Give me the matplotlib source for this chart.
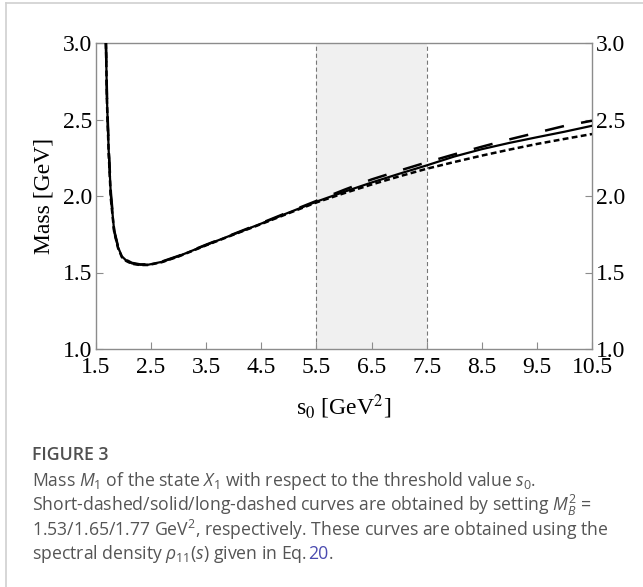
import matplotlib
matplotlib.use("Agg")
import matplotlib.pyplot as plt
from matplotlib.lines import Line2D

# ---------------- data ----------------
s0 = [1.68, 1.70, 1.73, 1.77, 1.83, 1.90, 1.97, 2.05, 2.15, 2.30, 2.45, 2.70,
      3.00, 3.50, 4.00, 4.50, 5.00, 5.50, 6.00, 6.50, 7.00, 7.50, 8.00, 8.50,
      9.00, 9.50, 10.00, 10.50]
mass_solid = [3.00, 2.62, 2.30, 2.00, 1.77, 1.665, 1.605, 1.578, 1.560, 1.551, 1.551, 1.570,
              1.607, 1.680, 1.750, 1.820, 1.892, 1.963, 2.027, 2.088, 2.145, 2.200, 2.258, 2.306,
              2.347, 2.384, 2.420, 2.459]
mass_short = [3.00, 2.60, 2.28, 1.98, 1.765, 1.660, 1.600, 1.575, 1.557, 1.549, 1.549, 1.568,
              1.605, 1.678, 1.748, 1.817, 1.888, 1.958, 2.018, 2.075, 2.128, 2.178, 2.222, 2.264,
              2.303, 2.340, 2.373, 2.405]
mass_long = [3.00, 2.64, 2.32, 2.02, 1.775, 1.670, 1.610, 1.582, 1.563, 1.553, 1.553, 1.572,
             1.609, 1.682, 1.752, 1.823, 1.896, 1.968, 2.040, 2.108, 2.165, 2.220, 2.272, 2.322,
             2.370, 2.414, 2.458, 2.492]
band = [5.5, 7.5]
xticks = [1.5, 2.5, 3.5, 4.5, 5.5, 6.5, 7.5, 8.5, 9.5, 10.5]
yticks = [1.0, 1.5, 2.0, 2.5, 3.0]

# ---------------- style ----------------
plt.rcParams['lines.scale_dashes'] = False
plt.rcParams['mathtext.fontset'] = 'custom'
plt.rcParams['mathtext.rm'] = 'Open Sans'
plt.rcParams['mathtext.it'] = 'Open Sans:italic'
plt.rcParams['mathtext.bf'] = 'Open Sans:bold'

W, H = 643, 587
fig = plt.figure(figsize=(W / 100, H / 100), dpi=100)

# frame lines of the page (left and top)
fig.add_artist(Line2D([5.5 / W, 5.5 / W], [0, 1 - 3 / H], color='#d0d0d0', lw=1.2,
                      transform=fig.transFigure))
fig.add_artist(Line2D([5.5 / W, 1], [1 - 3 / H, 1 - 3 / H], color='#d0d0d0', lw=1.2,
                      transform=fig.transFigure))

ax = fig.add_axes([96 / W, 1 - 349 / H, (592 - 96) / W, (349 - 43) / H])
serif = 'Liberation Serif'
spine_col = '#8c8c8c'

ax.axvspan(band[0], band[1], color='#f0f0f0', lw=0, zorder=0)
for b in band:
    ax.axvline(b, color='#777777', lw=0.8, dashes=(3, 2), zorder=1)

ax.plot(s0, mass_short, color='black', lw=1.8, dashes=(4.2, 2.4), zorder=3)
ax.plot(s0, mass_solid, color='black', lw=1.6, zorder=3)
ax.plot(s0, mass_long, color='black', lw=1.8, dashes=(14, 12.5), zorder=3)

ax.set_xlim(1.5, 10.5)
ax.set_ylim(1.0, 3.0)
ax.set_xticks(xticks)
ax.set_yticks(yticks)
ax.set_xticklabels([f"{v:.1f}" for v in xticks])
ax.set_yticklabels([f"{v:.1f}" for v in yticks])
for sp in ax.spines.values():
    sp.set_color(spine_col)
    sp.set_linewidth(1.0)
ax.tick_params(direction='in', length=5, width=0.8, color=spine_col,
               labelsize=17, labelcolor='black')
ax.tick_params(axis='x', pad=6, top=False)
ax.tick_params(axis='y', pad=3, right=True, labelright=True)
for lab in ax.get_xticklabels() + ax.get_yticklabels():
    lab.set_family(serif)

ax.set_ylabel("Mass [GeV]", family=serif, fontsize=17, labelpad=6)
ax.set_xlabel(r"s$_0$ [GeV$^2$]", family=serif, fontsize=17, labelpad=10,
              math_fontfamily='stix')

# ---------------- caption ----------------
cap_col = '#555555'
x0 = 32 / W
fs = 12.7
fig.text(x0, 1 - 455 / H, "FIGURE 3", family='Open Sans', fontsize=12.8,
         weight='semibold', color='#505050', va='center')
lines = [
    r"Mass $M_1$ of the state $X_1$ with respect to the threshold value $s_0$.",
    r"Short-dashed/solid/long-dashed curves are obtained by setting $M_B^2$ =",
    r"1.53/1.65/1.77 GeV$^2$, respectively. These curves are obtained using the",
]
ys = [481, 505, 530]
for t, y in zip(lines, ys):
    fig.text(x0, 1 - y / H, t, family='Open Sans', fontsize=fs, color=cap_col,
             va='center')
t1 = fig.text(x0, 1 - 554 / H, r"spectral density $\rho_{11}(s)$ given in Eq. ",
              family='Open Sans', fontsize=fs, color=cap_col, va='center')
fig.canvas.draw()
r = fig.canvas.get_renderer()
bb = t1.get_window_extent(r)
t2 = fig.text(bb.x1 / W, 1 - 554 / H, "20", family='Open Sans', fontsize=fs,
              color='#4b4bb0', va='center')
bb2 = t2.get_window_extent(r)
fig.text(bb2.x1 / W, 1 - 554 / H, ".", family='Open Sans', fontsize=fs,
         color=cap_col, va='center')

fig.savefig("out.png", dpi=100)
